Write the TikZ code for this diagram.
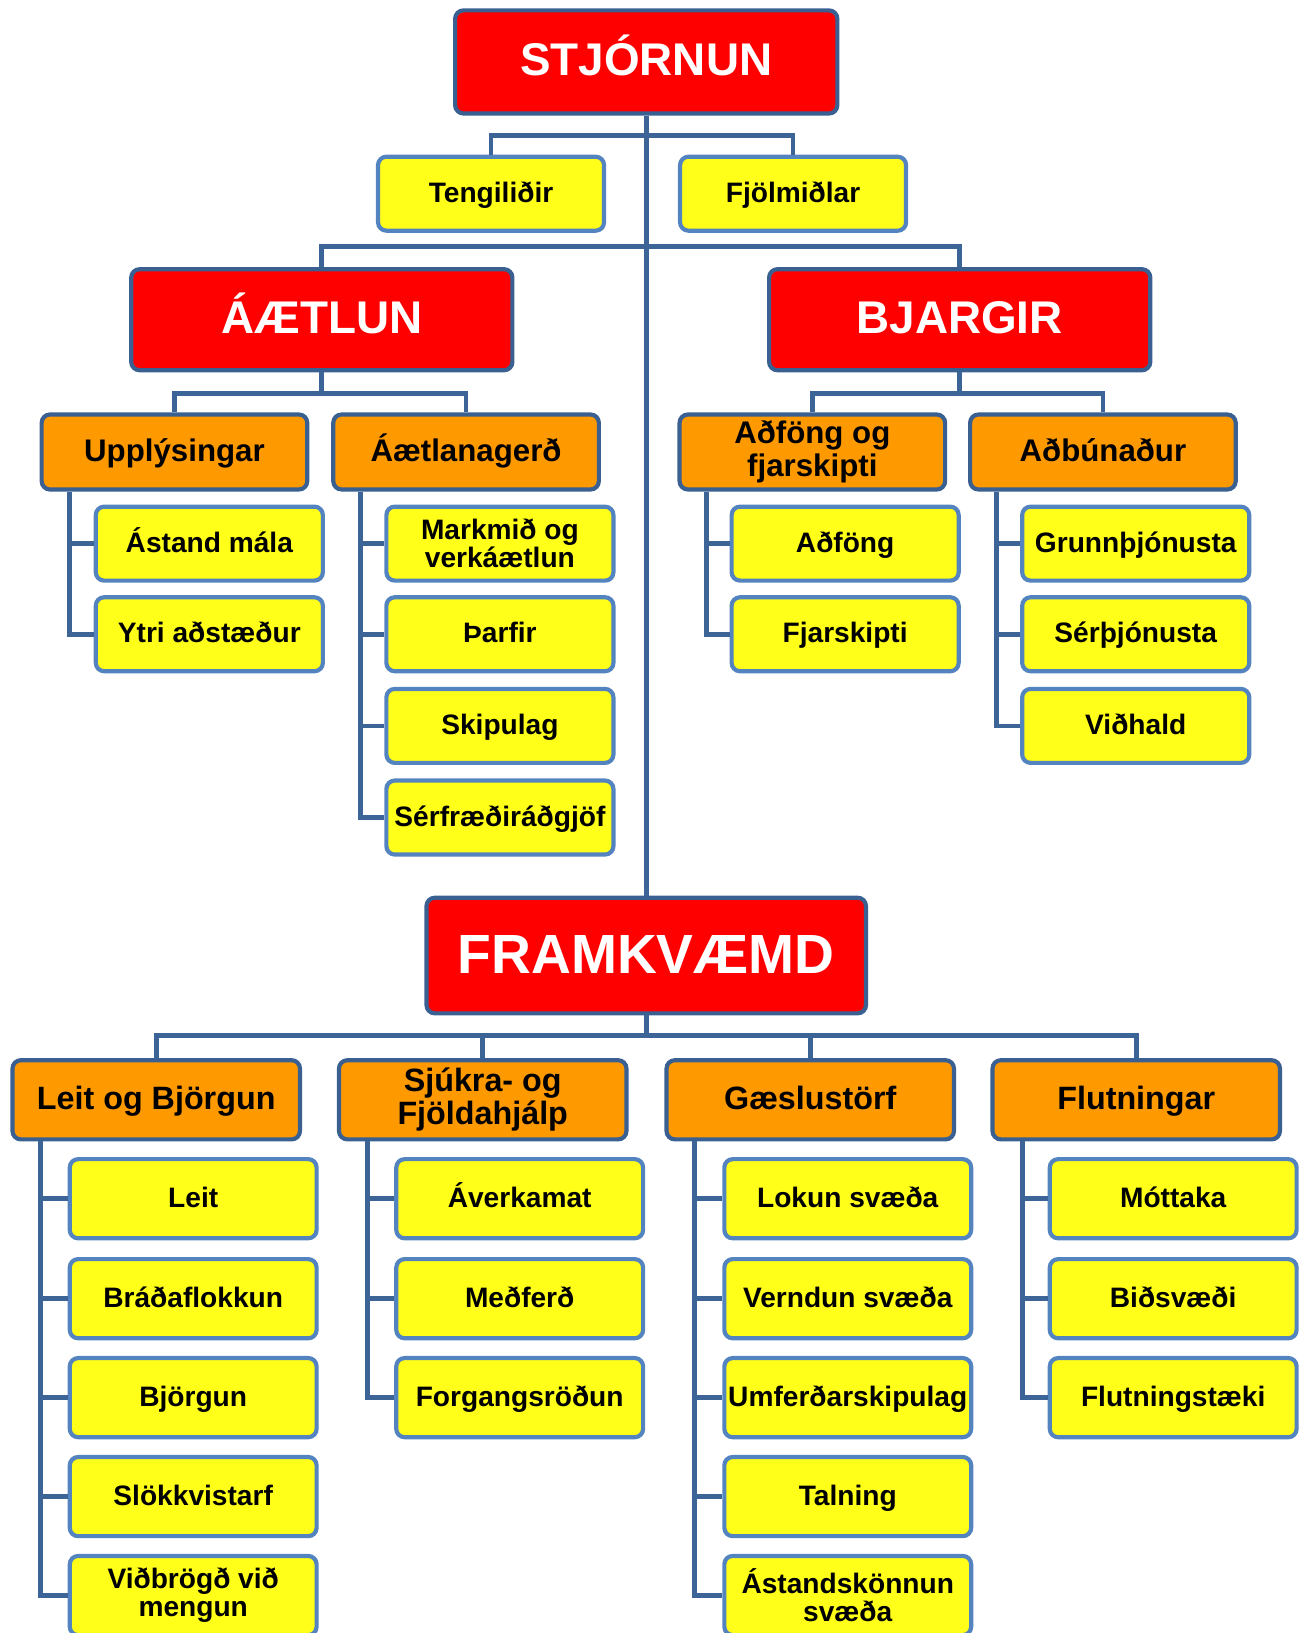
\documentclass[tikz,border=0pt]{standalone}
\usepackage{fontspec}
\setmainfont{Liberation Sans}
\definecolor{boxred}{RGB}{255,0,0}
\definecolor{boxorg}{RGB}{255,153,0}
\definecolor{boxyel}{RGB}{255,255,25}
\definecolor{bordark}{RGB}{58,96,146}
\definecolor{borlight}{RGB}{84,132,192}
\definecolor{linecol}{RGB}{60,100,150}
\begin{document}
\begin{tikzpicture}[x=0.5pt,y=-0.5pt,
  box/.style={rectangle, rounded corners=4pt, line width=2pt, inner sep=0pt, align=center},
  ml/.style={text height={}, text depth={}},
  redbox/.style={box, fill=boxred, draw=bordark, text=white, minimum width=183pt, minimum height=48.5pt, font=\fontsize{22}{24}\selectfont\bfseries, text height=15.8pt, text depth=3pt},
  ylw/.style={box, fill=boxyel, draw=borlight, minimum width=109pt, minimum height=35.5pt, font=\fontsize{13.5}{13.5}\selectfont\bfseries, text height=9.7pt, text depth=1.5pt},
  ylwB/.style={ylw, minimum width=118.5pt, minimum height=38pt},
  orng/.style={box, fill=boxorg, draw=bordark, minimum width=127.5pt, minimum height=36pt, font=\fontsize{15}{16}\selectfont\bfseries, text height=10.8pt, text depth=1.2pt},
  orngB/.style={orng, minimum width=138pt, minimum height=38pt, font=\fontsize{15.5}{16}\selectfont\bfseries, text height=11.2pt, text depth=2.2pt},
  conn/.style={draw=linecol, line width=2.3pt}]
\useasboundingbox (0,0) rectangle (1247,1568);
\clip (0,0) rectangle (1247,1568);

% ---- top level
\node[redbox, minimum width=183.5pt, minimum height=49.5pt] (stj) at (620.5,59.5) {STJÓRNUN};
\node[ylw, minimum width=108.5pt] (teng) at (471.5,186) {Tengiliðir};
\node[ylw, minimum width=108.5pt] (fjol) at (761.5,186) {Fjölmiðlar};
\node[redbox] (aet) at (309,307) {ÁÆTLUN};
\node[redbox] (bja) at (921.5,307) {BJARGIR};

\node[orng] (upp) at (167.5,434) {Upplýsingar};
\node[orng] (aeg) at (447.5,434) {Áætlanagerð};
\node[orng, ml] (adf) at (780,434) {Aðföng og\\fjarskipti};
\node[orng] (adb) at (1059,434) {Aðbúnaður};

\node[ylw] (ast) at (201,522) {Ástand mála};
\node[ylw] (ytr) at (201,609) {Ytri aðstæður};

\node[ylw, ml] (mar) at (480,522) {Markmið og\\verkáætlun};
\node[ylw] (thar) at (480,609) {Þarfir};
\node[ylw] (skip) at (480,697) {Skipulag};
\node[ylw] (serf) at (480,785) {Sérfræðiráðgjöf};

\node[ylw] (adg) at (811.5,522) {Aðföng};
\node[ylw] (fjar) at (811.5,609) {Fjarskipti};

\node[ylw] (grun) at (1090.5,522) {Grunnþjónusta};
\node[ylw] (serth) at (1090.5,609) {Sérþjónusta};
\node[ylw] (vidh) at (1090.5,697) {Viðhald};

% ---- framkvaemd
\node[redbox, minimum width=211pt, minimum height=55.5pt, font=\fontsize{26.5}{28}\selectfont\bfseries, text height=19.1pt, text depth=1.5pt] (fram) at (620.5,917.5) {FRAMKVÆMD};

\node[orngB] (leit) at (150,1056) {Leit og Björgun};
\node[orngB, ml] (sjuk) at (463.5,1056) {Sjúkra- og\\Fjöldahjálp};
\node[orngB] (gaes) at (778,1056) {Gæslustörf};
\node[orngB] (flut) at (1091,1056) {Flutningar};

\node[ylwB] (l1) at (185.5,1151) {Leit};
\node[ylwB] (l2) at (185.5,1247) {Bráðaflokkun};
\node[ylwB] (l3) at (185.5,1342) {Björgun};
\node[ylwB] (l4) at (185.5,1437) {Slökkvistarf};
\node[ylwB, ml] (l5) at (185.5,1532) {Viðbrögð við\\mengun};

\node[ylwB] (s1) at (499,1151) {Áverkamat};
\node[ylwB] (s2) at (499,1247) {Meðferð};
\node[ylwB] (s3) at (499,1342) {Forgangsröðun};

\node[ylwB] (g1) at (814,1151) {Lokun svæða};
\node[ylwB] (g2) at (814,1247) {Verndun svæða};
\node[ylwB] (g3) at (814,1342) {Umferðarskipulag};
\node[ylwB] (g4) at (814,1437) {Talning};
\node[ylwB, ml] (g5) at (814,1532) {Ástandskönnun\\svæða};

\node[ylwB] (f1) at (1126.5,1151) {Móttaka};
\node[ylwB] (f2) at (1126.5,1247) {Biðsvæði};
\node[ylwB] (f3) at (1126.5,1342) {Flutningstæki};

% ---- junction coordinates
\coordinate (j1) at (620.5,130);
\coordinate (j2) at (620.5,237);
\coordinate (j3) at (309,378);
\coordinate (j4) at (921.5,378);
\coordinate (j6) at (620.5,994);
\coordinate (vupp) at (67,0);
\coordinate (vaeg) at (346,0);
\coordinate (vadf) at (678,0);
\coordinate (vadb) at (957,0);
\coordinate (vleit) at (39,0);
\coordinate (vsjuk) at (353,0);
\coordinate (vgaes) at (667,0);
\coordinate (vflut) at (982,0);

% ---- connectors
\draw[conn] (stj.south) -- (fram.north);
\draw[conn] (teng.north) |- (j1) -| (fjol.north);
\draw[conn] (aet.north) |- (j2) -| (bja.north);
\draw[conn] (aet.south) -- (j3);
\draw[conn] (upp.north) |- (j3) -| (aeg.north);
\draw[conn] (bja.south) -- (j4);
\draw[conn] (adf.north) |- (j4) -| (adb.north);

\foreach \c in {ast,ytr} \draw[conn] (upp.south -| vupp) |- (\c.west);
\foreach \c in {mar,thar,skip,serf} \draw[conn] (aeg.south -| vaeg) |- (\c.west);
\foreach \c in {adg,fjar} \draw[conn] (adf.south -| vadf) |- (\c.west);
\foreach \c in {grun,serth,vidh} \draw[conn] (adb.south -| vadb) |- (\c.west);

\draw[conn] (fram.south) -- (j6);
\draw[conn] (leit.north) |- (j6) -| (flut.north);
\draw[conn] (sjuk.north) -- (sjuk.north |- j6);
\draw[conn] (gaes.north) -- (gaes.north |- j6);

\foreach \c in {l1,l2,l3,l4,l5} \draw[conn] (leit.south -| vleit) |- (\c.west);
\foreach \c in {s1,s2,s3} \draw[conn] (sjuk.south -| vsjuk) |- (\c.west);
\foreach \c in {g1,g2,g3,g4,g5} \draw[conn] (gaes.south -| vgaes) |- (\c.west);
\foreach \c in {f1,f2,f3} \draw[conn] (flut.south -| vflut) |- (\c.west);
\end{tikzpicture}
\end{document}
